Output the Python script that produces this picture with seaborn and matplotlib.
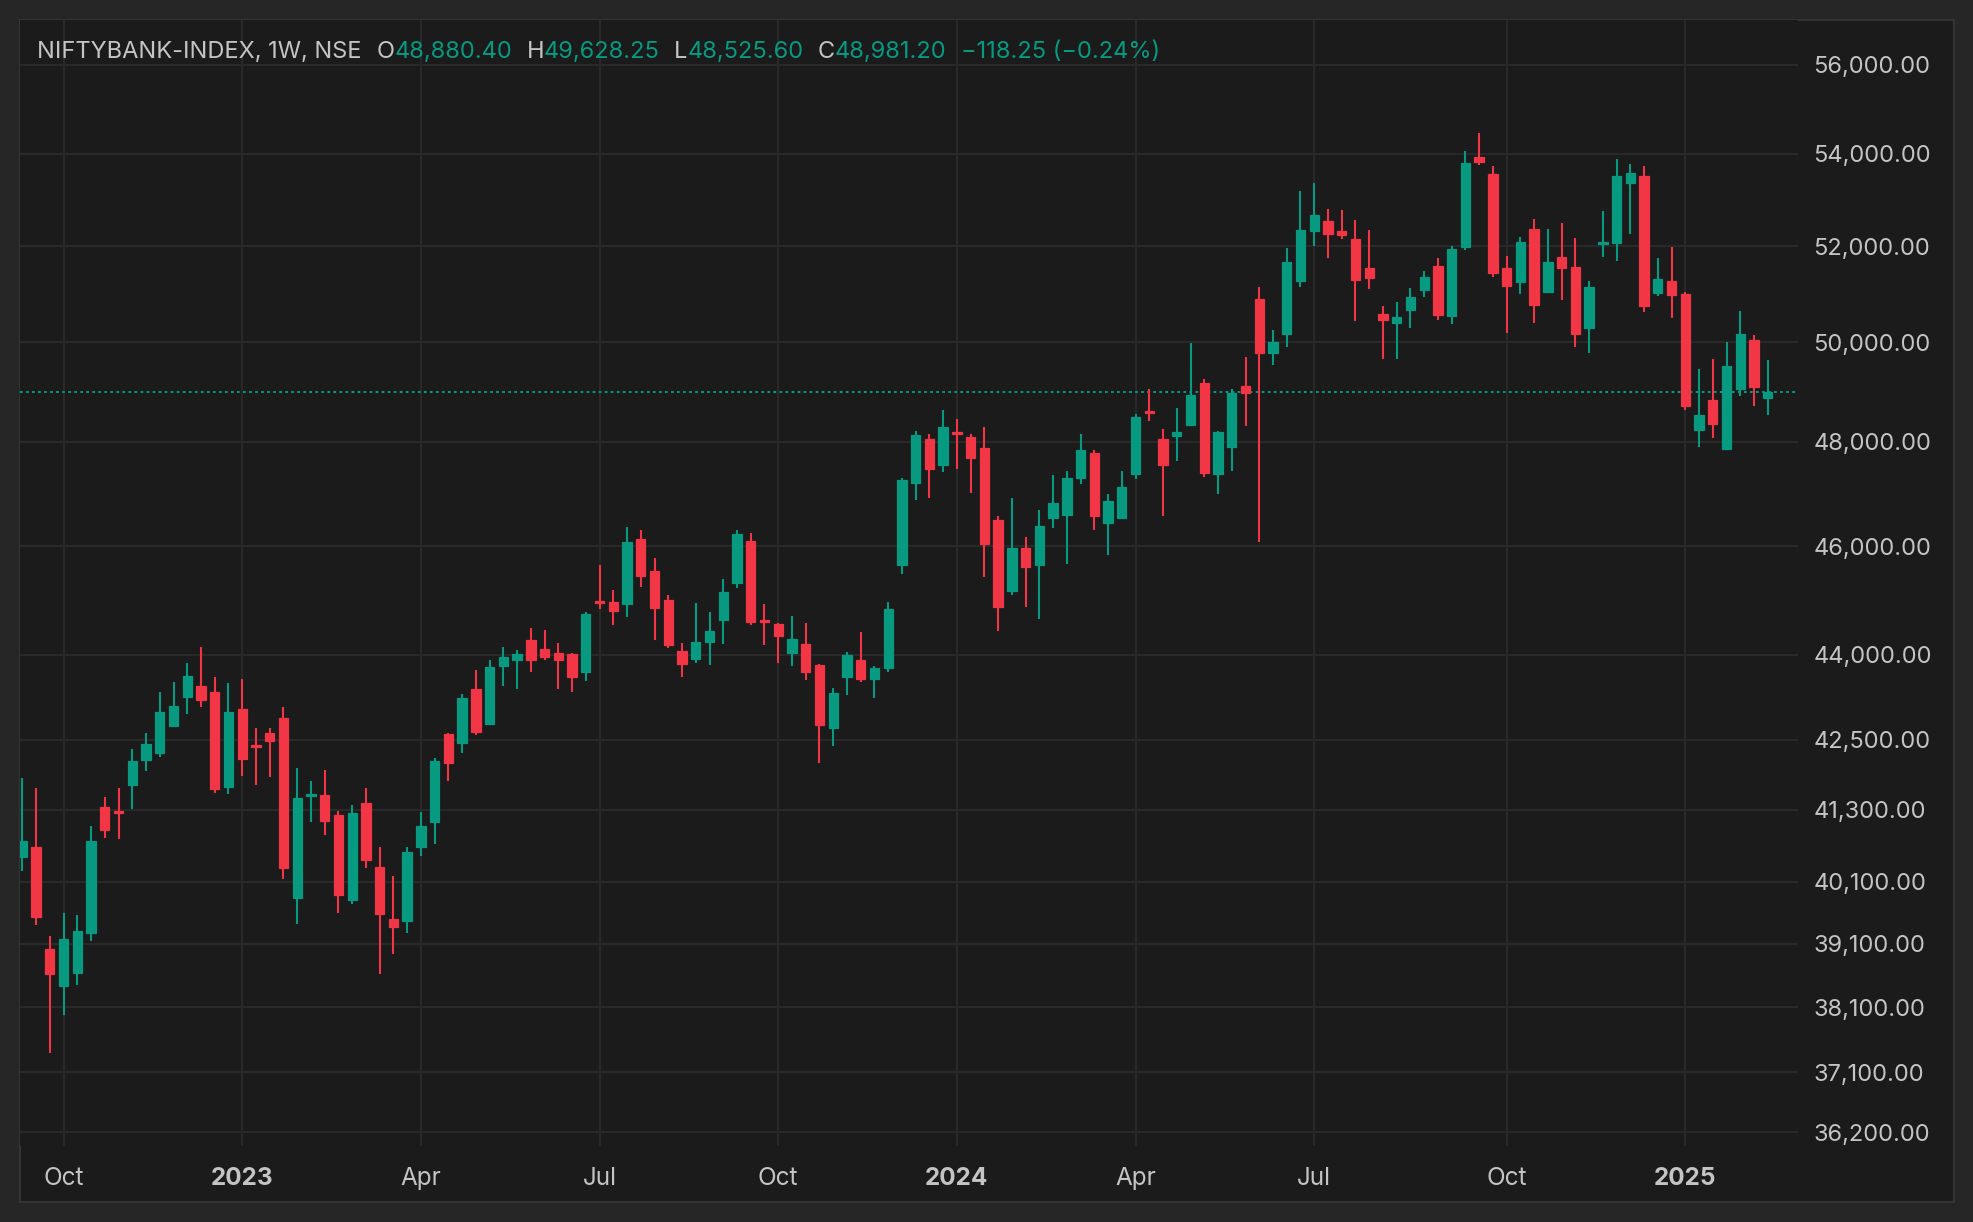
import matplotlib
matplotlib.use("Agg")
import matplotlib.pyplot as plt
import matplotlib.patches as mpatches
from matplotlib.ticker import FixedLocator, NullLocator, FuncFormatter
import numpy as np
import pandas as pd
import seaborn as sns

# weekly candles NIFTY BANK, first bar = week of 12 Sep 2022
first_week = "2022-09-12"

opens = [40519, 40681, 39021, 38425, 38629, 39276, 41351, 41283, 41727, 42153,
         42273, 42742, 43256, 43451, 43344, 41692, 43043, 42409, 42618, 42884,
         39838, 41539, 41556, 41216, 39806, 41419, 40346, 39501, 39469, 40681,
         41099, 42600, 42443, 43394, 42777, 43800, 43906, 44269, 44104, 44031,
         44012, 43694, 44988, 44969, 44933, 46135, 45540, 45006, 44067, 43924,
         44233, 44638, 45319, 46096, 44638, 44564, 44031, 44196, 43818, 42706,
         43606, 43906, 43571, 43760, 45651, 47205, 48053, 47551, 48193, 48093,
         47878, 46500, 45156, 45963, 45651, 46538, 46596, 47301, 47782, 46442,
         46538, 47378, 48613, 48053, 48113, 48333, 49173, 47378, 47897, 49113,
         50889, 49780, 50167, 51264, 52319, 52536, 52319, 52152, 51535, 50576,
         50389, 50660, 51076, 51576, 50535, 51990, 53928, 53560, 51542, 51243,
         52368, 51035, 51771, 51563, 50285, 52042, 52065, 53365, 53516, 51014,
         51264, 50993, 48233, 48833, 47860, 49053, 50035, 48880.40]
highs = [41846, 41675, 39228, 39597, 39565, 41032, 41522, 41675, 42341, 42618,
         43344, 43522, 43858, 44147, 43610, 43504, 43575, 42707, 42707, 43079,
         42017, 41795, 41982, 41283, 41385, 41675, 40681, 40195, 40681, 41267,
         42187, 42620, 43306, 43729, 43906, 44141, 44086, 44489, 44453, 44214,
         44031, 44783, 45650, 45190, 46365, 46308, 45779, 45098, 44215, 44951,
         44785, 45393, 46308, 46250, 44933, 44580, 44712, 44583, 43840, 43412,
         44049, 44417, 43800, 44954, 47301, 48213, 48153, 48633, 48453, 48153,
         48293, 46577, 46904, 46173, 46692, 47359, 47436, 48153, 47840, 46994,
         47436, 48553, 49053, 48253, 48673, 49973, 49253, 48213, 49053, 49693,
         51139, 50243, 51951, 53188, 53362, 52797, 52775, 52558, 52341, 50743,
         50826, 51118, 51472, 51743, 52000, 54060, 54464, 53733, 51792, 52195,
         52585, 52368, 52498, 52166, 51264, 52758, 53884, 53776, 53733, 51750,
         51972, 51035, 49453, 49653, 49993, 50639, 50139, 49628.25]
lows = [40284, 39405, 37387, 37972, 38440, 39148, 40831, 40814, 41317, 41965,
        42204, 42720, 42955, 43079, 41590, 41573, 41880, 41727, 41863, 40145,
        39421, 41099, 40881, 39597, 39742, 40329, 38613, 38943, 39276, 40530,
        40731, 41795, 42273, 42582, 42760, 43447, 43394, 43694, 43906, 43394,
        43341, 43535, 44840, 44546, 44693, 45245, 44270, 44123, 43606, 43853,
        43818, 44196, 45227, 44546, 44178, 43853, 43800, 43553, 42101, 42392,
        43288, 43518, 43235, 43700, 45486, 46878, 46917, 47417, 47474, 47013,
        45431, 44440, 45083, 44862, 44642, 46346, 45670, 47186, 46308, 45835,
        46520, 47282, 48413, 46577, 47628, 48320, 47321, 46994, 47436, 48313,
        46077, 49533, 49900, 51139, 52000, 51750, 52152, 50431, 51097, 49653,
        49653, 50285, 50931, 50451, 50368, 51910, 53755, 51347, 50181, 50993,
        50389, 51014, 50868, 49893, 49773, 51771, 51688, 52260, 50618, 50951,
        50493, 48633, 47896, 48073, 47840, 48913, 48713, 48525.60]
closes = [40781, 39533, 38613, 39180, 39308, 40781, 40965, 41250, 42136, 42426,
          42990, 43096, 43628, 43203, 41658, 42990, 42170, 42381, 42477, 40329,
          41505, 41573, 41116, 39886, 41250, 40463, 39581, 39373, 40597, 41032,
          42136, 42102, 43235, 42635, 43782, 43959, 44012, 43906, 43959, 43906,
          43606, 44746, 44951, 44804, 46077, 45448, 44859, 44178, 43835, 44233,
          44436, 45153, 46231, 44601, 44601, 44344, 44288, 43694, 42759, 43324,
          43994, 43571, 43765, 44826, 47263, 48133, 47474, 48293, 48153, 47686,
          46038, 44862, 45963, 45615, 46385, 46827, 47301, 47840, 46577, 46865,
          47128, 48493, 48573, 47551, 48193, 48933, 47397, 48193, 48973, 48973,
          49780, 50000, 51660, 52341, 52667, 52254, 52232, 51285, 51326, 50451,
          50514, 50931, 51347, 50556, 51931, 53798, 53819, 51431, 51167, 52079,
          50764, 51660, 51542, 50160, 51139, 52079, 53516, 53581, 50743, 51306,
          50972, 48713, 48533, 48353, 49513, 50160, 49099.45, 48981.20]

tick_dates = ["2022-10-03", "2023-01-02", "2023-04-03", "2023-07-03", "2023-10-02",
              "2024-01-01", "2024-04-01", "2024-07-01", "2024-10-07", "2025-01-06"]
tick_labels = ["Oct", "2023", "Apr", "Jul", "Oct", "2024", "Apr", "Jul", "Oct", "2025"]
price_ticks = [36200, 37100, 38100, 39100, 40100, 41300, 42500, 44000,
               46000, 48000, 50000, 52000, 54000, 56000]

symbol = "NIFTYBANK-INDEX, 1W, NSE"

GREEN = "#089981"
RED = "#f23645"
BG = "#1b1b1b"
OUTER = "#262626"
GRID = "#2a2a2a"
TXT = "#c4c4c4"

df = pd.DataFrame({
    "date": pd.date_range(first_week, periods=len(opens), freq="W-MON"),
    "open": opens, "high": highs, "low": lows, "close": closes,
})
df["x"] = np.arange(len(df))
df["color"] = np.where(df["close"] >= df["open"], GREEN, RED)
df["body_low"] = df[["open", "close"]].min(axis=1)
df["body_h"] = (df["close"] - df["open"]).abs()

sns.set_theme(style="dark", rc={
    "axes.facecolor": BG,
    "figure.facecolor": OUTER,
    "axes.edgecolor": BG,
    "grid.color": GRID,
})
plt.rcParams["font.family"] = ["Inter", "DejaVu Sans"]

fig = plt.figure(figsize=(19.74, 12.22), dpi=100)
panel = mpatches.Rectangle((20 / 1974, 20 / 1222), 1934 / 1974, 1182 / 1222,
                           transform=fig.transFigure, facecolor=BG,
                           edgecolor="#343434", lw=1.5, zorder=-5)
fig.patches.append(panel)
ax = fig.add_axes([20 / 1974, 76 / 1222, 1778 / 1974, 1126 / 1222])
ax.set_zorder(2)

# candles: wicks then bodies
ax.vlines(df["x"], df["low"], df["high"], colors=df["color"], lw=1.5, zorder=3)
ax.bar(df["x"], df["body_h"], bottom=df["body_low"], width=0.68,
       color=df["color"], edgecolor=df["color"], linewidth=0.9, zorder=4)

# last close line
ax.axhline(df["close"].iloc[-1], color=GREEN, lw=1.4, ls=(0, (1.4, 1.7)), zorder=2)

ax.set_yscale("log")
ax.set_ylim(35998, 57035)
ax.set_xlim(-0.17, 129.2)
ax.yaxis.set_major_locator(FixedLocator(price_ticks))
ax.yaxis.set_minor_locator(NullLocator())
ax.yaxis.set_major_formatter(FuncFormatter(lambda v, p: f"{v:,.2f}"))
ax.yaxis.tick_right()
ax.tick_params(axis="y", length=0, pad=11, labelsize=17, labelcolor=TXT)

pos = [int(df.index[df["date"] == pd.Timestamp(d)][0]) for d in tick_dates]
ax.set_xticks(pos)
ax.set_xticklabels(tick_labels)
ax.tick_params(axis="x", length=0, pad=15, labelsize=17.5, labelcolor=TXT)
for t in ax.get_xticklabels():
    if t.get_text().isdigit():
        t.set_fontweight("bold")

ax.grid(True, color=GRID, lw=1.4)
sns.despine(ax=ax, left=True, bottom=True, right=True, top=True)

# header line with OHLC of the last bar
last = df.iloc[-1]
chg = last["close"] - df["close"].iloc[-2]
pct = chg / df["close"].iloc[-2] * 100
pieces = [
    (symbol, TXT, 0),
    ("O", TXT, 11), (f"{last['open']:,.2f}", GREEN, 0),
    ("H", TXT, 10), (f"{last['high']:,.2f}", GREEN, 0),
    ("L", TXT, 10), (f"{last['low']:,.2f}", GREEN, 0),
    ("C", TXT, 10), (f"{last['close']:,.2f}", GREEN, 0),
    (f"{chg:,.2f} ({pct:.2f}%)".replace("-", "\u2212"), GREEN, 11),
]
prev = None
for text, col, gap in pieces:
    if prev is None:
        prev = ax.annotate(text, xy=(17 / 1778, 1 - 32 / 1126), xycoords="axes fraction",
                           va="center", ha="left", color=col, fontsize=17)
    else:
        prev = ax.annotate(text, xy=(1, 0.5), xycoords=prev, xytext=(gap, 0),
                           textcoords="offset points", va="center", ha="left",
                           color=col, fontsize=17)

fig.savefig("out.png", dpi=100, facecolor=fig.get_facecolor())
